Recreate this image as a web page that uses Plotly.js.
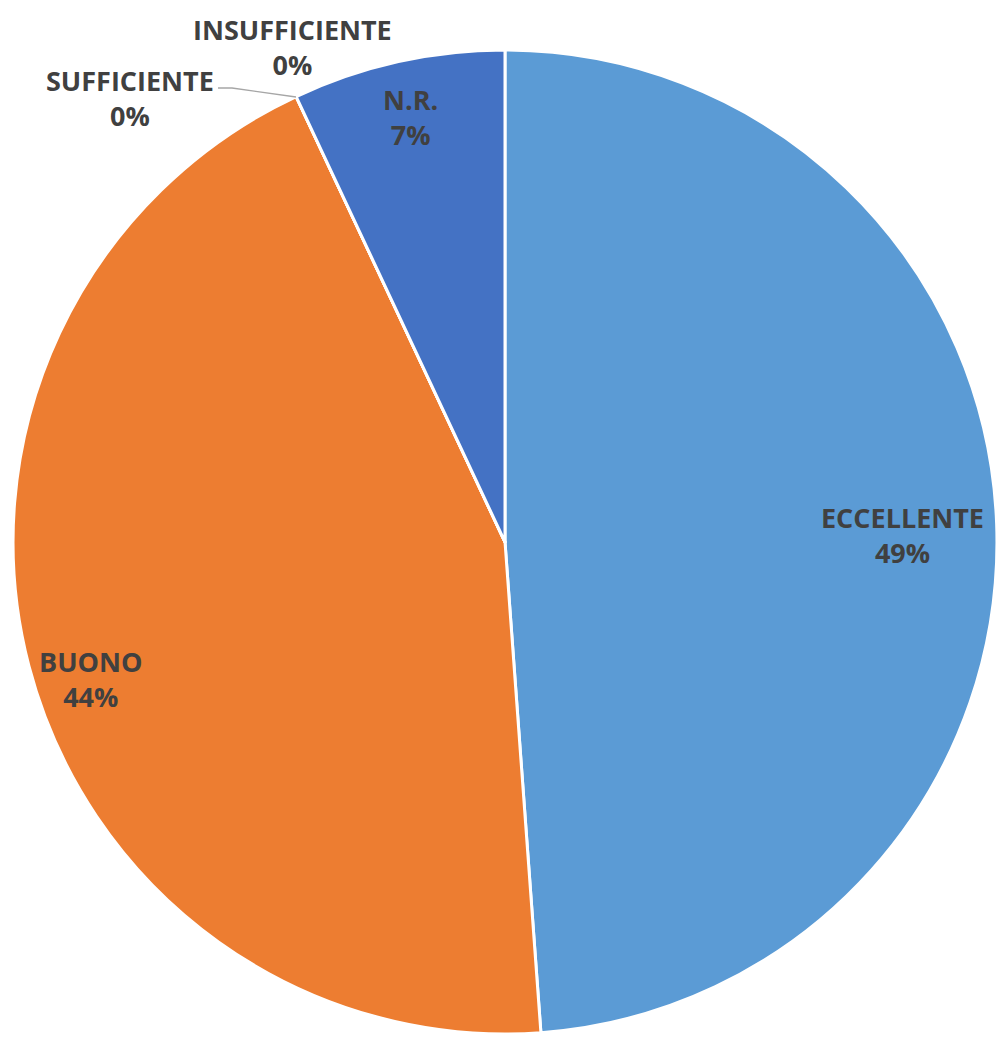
<!DOCTYPE html>
<html>
<head>
<meta charset="utf-8">
<script src="https://cdn.plot.ly/plotly-3.0.1.min.js"></script>
<style>html,body{margin:0;padding:0;background:#fff;}#chart{width:1000px;height:1038px;}</style>
</head>
<body>
<div id="chart"></div>
<script>
var categories = ['ECCELLENTE', 'BUONO', 'SUFFICIENTE', 'INSUFFICIENTE', 'N.R.'];
var counts = [21, 19, 0, 0, 3];
var sliceColors = ['#5B9BD5', '#ED7D31', '#A5A5A5', '#FFC000', '#4472C4'];
var percentLabels = ['49%', '44%', '0%', '0%', '7%'];

// label placement (pixel centres of each two-line data label, as in the original chart)
var labelPixelX = [902, 90, 130, 292, 410];
var labelPixelY = [535, 679, 98, 47, 117];

var W = 1000, H = 1038;
var textFont = {family: '"Open Sans", "Liberation Sans", sans-serif', size: 27, color: '#404040'};

var trace = {
  type: 'pie',
  labels: categories,
  values: counts,
  sort: false,
  direction: 'clockwise',
  rotation: 0,
  marker: {colors: sliceColors, line: {color: '#FFFFFF', width: 3}},
  textinfo: 'none',
  hoverinfo: 'label+percent',
  showlegend: false,
  domain: {x: [0.013, 0.997], y: [0.0039, 0.9518]}
};

var annotations = categories.map(function (c, i) {
  return {
    xref: 'paper', yref: 'paper',
    x: labelPixelX[i] / W, y: 1 - labelPixelY[i] / H,
    xanchor: 'center', yanchor: 'middle',
    text: '<b>' + c + '</b><br><b>' + percentLabels[i] + '</b>',
    showarrow: false, font: textFont, align: 'center'
  };
});

var layout = {
  width: W,
  height: H,
  margin: {l: 0, r: 0, t: 0, b: 0},
  paper_bgcolor: '#FFFFFF',
  showlegend: false,
  annotations: annotations,
  shapes: [{
    type: 'path', xref: 'paper', yref: 'paper',
    path: 'M ' + (218 / W) + ',' + (1 - 88 / H) + ' L ' + (232 / W) + ',' + (1 - 88 / H) + ' L ' + (296 / W) + ',' + (1 - 97 / H),
    line: {color: '#A6A6A6', width: 1.3}
  }]
};

Plotly.newPlot('chart', [trace], layout, {displayModeBar: false, staticPlot: true});
</script>
</body>
</html>
